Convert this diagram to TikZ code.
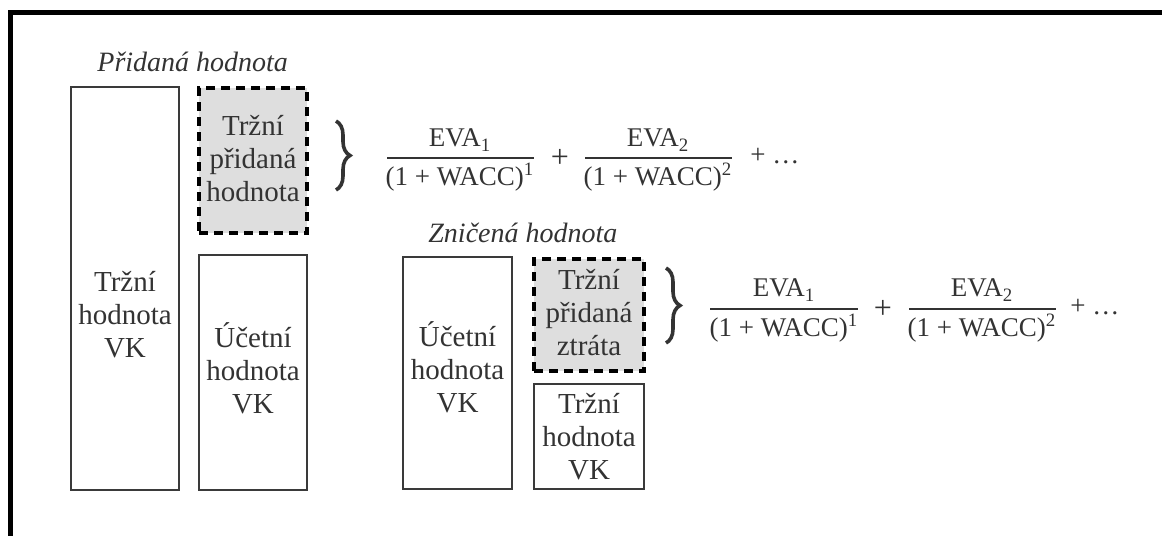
\documentclass[tikz,border=0pt]{standalone}
\usepackage{fontspec}
\setmainfont{Liberation Serif}
\usetikzlibrary{decorations.pathreplacing}
\definecolor{ink}{HTML}{333333}
\definecolor{boxgray}{HTML}{3A3A3A}
\definecolor{shade}{HTML}{DEDEDE}
\tikzset{
 box/.style={draw=boxgray, line width=1.1pt, inner sep=0pt},
 dbox/.style={draw=black, line width=1.6pt, dash pattern=on 4.5pt off 3pt, fill=shade, inner sep=0pt},
 lbl/.style={text=ink, align=center, font=\fontsize{14.5}{16.5}\selectfont, inner sep=0pt},
 ttl/.style={text=ink, font=\fontsize{14}{16.5}\selectfont\itshape, inner sep=0pt},
 frm/.style={text=ink, font=\fontsize{13.5}{16}\selectfont, inner sep=0pt},
 pls/.style={text=ink, font=\fontsize{16}{16}\selectfont, inner sep=0pt},
 brc/.style={draw=ink, line width=1.8pt, decorate, decoration={brace, amplitude=7pt}},
 bar/.style={draw=ink, line width=1pt},
}
\begin{document}
\begin{tikzpicture}[x=0.5pt,y=-0.5pt]
\useasboundingbox (0,0) rectangle (1162,536);
% frame
\fill[black] (8,10) rectangle (1162,15);
\fill[black] (8,10) rectangle (13,536);

% ---- Pridana hodnota
\node[ttl, anchor=base west] (t1) at (97,71) {Přidaná hodnota};
\node[box, minimum width=54pt, minimum height=201.5pt] (mv1) at (125,288.5) {};
\node[lbl] (mv1t) at (125,315) {Tržní\\hodnota\\VK};
\node[dbox, minimum width=54pt, minimum height=72.5pt] (mva1) at (253,160.5) {};
\node[lbl] (mva1t) at (253,159) {Tržní\\přidaná\\hodnota};
\node[box, minimum width=54pt, minimum height=117.5pt] (bv1) at (253,372.5) {};
\node[lbl] (bv1t) at (253,368) {Účetní\\hodnota\\VK};

\coordinate (b1a) at (336,121);
\coordinate (b1b) at (336,190);
\draw[brc] (b1a) -- (b1b);

\node[frm] (n11) at (460,140) {EVA\textsubscript{1}};
\node[frm] (d11) at (460,177) {(1 + WACC)\textsuperscript{1}};
\coordinate (l11) at (387,158); \coordinate (r11) at (534,158);
\draw[bar] (l11) -- (r11);
\node[pls] (p11) at (560,158) {+};
\node[frm] (n12) at (658,140) {EVA\textsubscript{2}};
\node[frm] (d12) at (658,177) {(1 + WACC)\textsuperscript{2}};
\coordinate (l12) at (585,158); \coordinate (r12) at (732,158);
\draw[bar] (l12) -- (r12);
\node[frm, anchor=west] (p12) at (750,156) {+ \ldots};

% ---- Znicena hodnota
\node[ttl, anchor=base west] (t2) at (428,242) {Zničená hodnota};
\node[box, minimum width=54.5pt, minimum height=116pt] (bv2) at (457.5,373) {};
\node[lbl] (bv2t) at (457.5,367) {Účetní\\hodnota\\VK};
\node[dbox, minimum width=55pt, minimum height=56pt] (mva2) at (589,315) {};
\node[lbl] (mva2t) at (589,313) {Tržní\\přidaná\\ztráta};
\node[box, minimum width=55pt, minimum height=52.5pt] (mv2) at (589,436.5) {};
\node[lbl] (mv2t) at (589,437) {Tržní\\hodnota\\VK};

\coordinate (b2a) at (666,268);
\coordinate (b2b) at (666,343);
\draw[brc] (b2a) -- (b2b);

\node[frm] (n21) at (784,290) {EVA\textsubscript{1}};
\node[frm] (d21) at (784,328) {(1 + WACC)\textsuperscript{1}};
\coordinate (l21) at (710,309); \coordinate (r21) at (858,309);
\draw[bar] (l21) -- (r21);
\node[pls] (p21) at (883,309) {+};
\node[frm] (n22) at (982,290) {EVA\textsubscript{2}};
\node[frm] (d22) at (982,328) {(1 + WACC)\textsuperscript{2}};
\coordinate (l22) at (909,309); \coordinate (r22) at (1056,309);
\draw[bar] (l22) -- (r22);
\node[frm, anchor=west] (p22) at (1070,307) {+ \ldots};
\end{tikzpicture}
\end{document}
